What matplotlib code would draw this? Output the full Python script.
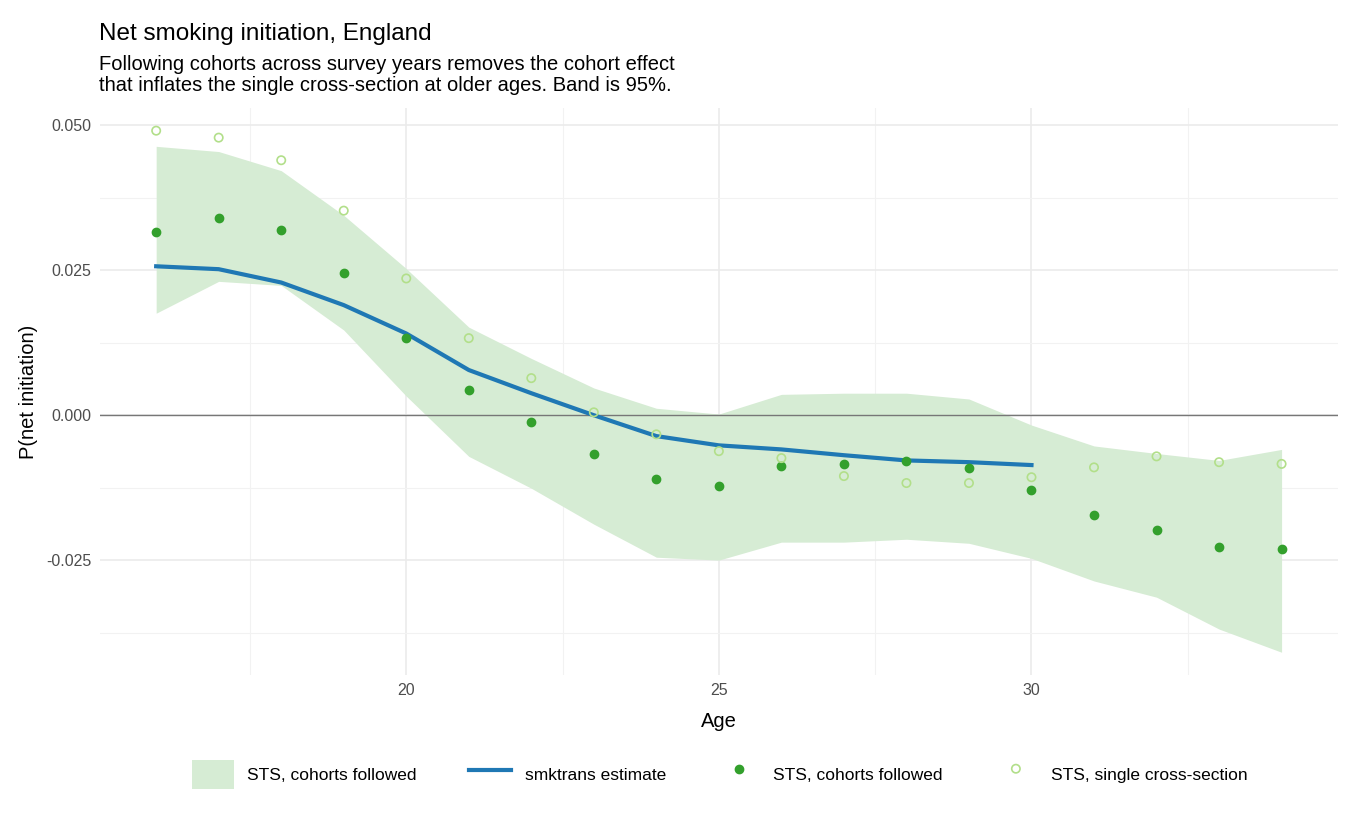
import matplotlib.pyplot as plt
import numpy as np
from matplotlib.ticker import MultipleLocator, FuncFormatter

plt.rcParams['font.family'] = ['Liberation Sans', 'DejaVu Sans']

ages = np.arange(16, 35)
cohort = [0.0317, 0.0340, 0.0320, 0.0245, 0.0133, 0.0043, -0.0012, -0.0067, -0.0110, -0.0122,
          -0.0088, -0.0084, -0.0079, -0.0091, -0.0129, -0.0172, -0.0198, -0.0228, -0.0231]
cross = [0.0491, 0.0479, 0.0440, 0.0353, 0.0236, 0.0133, 0.0064, 0.0005, -0.0033, -0.0062,
         -0.0074, -0.0105, -0.0117, -0.0117, -0.0107, -0.0090, -0.0071, -0.0081, -0.0084]
band_hi = [0.0464, 0.0455, 0.0422, 0.0345, 0.0253, 0.0152, 0.0098, 0.0047, 0.0012, 0.0002,
           0.0036, 0.0038, 0.0038, 0.0028, -0.0017, -0.0053, -0.0066, -0.0078, -0.0059]
band_lo = [0.0176, 0.0231, 0.0224, 0.0147, 0.0033, -0.0071, -0.0126, -0.0188, -0.0245, -0.0250,
           -0.0219, -0.0219, -0.0214, -0.0221, -0.0247, -0.0286, -0.0314, -0.0369, -0.0409]
est_ages = np.arange(16, 31)
estimate = [0.0257, 0.0252, 0.0229, 0.0190, 0.0141, 0.0078, 0.0038, 0.0000, -0.0036, -0.0052,
            -0.0059, -0.0069, -0.0078, -0.0081, -0.0086]

fig = plt.figure(figsize=(13.5, 8.25), dpi=100)
ax = fig.add_axes([0.074, 0.182, 0.917, 0.687])

ax.fill_between(ages, band_lo, band_hi, color='#d6ecd4', lw=0, label='STS, cohorts followed')
ax.axhline(0, color='#777777', lw=1, zorder=1)
ax.plot(est_ages, estimate, color='#1f78b4', lw=3, label='smktrans estimate', zorder=3)
ax.scatter(ages, cohort, color='#33a02c', s=36, zorder=4, label='STS, cohorts followed')
ax.scatter(ages, cross, facecolors='none', edgecolors='#b2df8a', s=36, lw=1.2, zorder=4,
           label='STS, single cross-section')

ax.set_xlim(15.1, 34.9)
ax.set_ylim(-0.0448, 0.053)
ax.xaxis.set_major_locator(MultipleLocator(5))
ax.xaxis.set_minor_locator(MultipleLocator(2.5))
ax.yaxis.set_major_locator(MultipleLocator(0.025))
ax.yaxis.set_minor_locator(MultipleLocator(0.0125))
ax.yaxis.set_major_formatter(FuncFormatter(lambda v, p: f"{v:.3f}"))
ax.grid(which='major', color='#ebebeb', lw=1.2)
ax.grid(which='minor', color='#f2f2f2', lw=0.8)
ax.set_axisbelow(True)
for s in ax.spines.values():
    s.set_visible(False)
ax.tick_params(which='both', length=0, labelsize=11.5, labelcolor='#4d4d4d', pad=6)
ax.set_xlabel('Age', fontsize=14.5, labelpad=10)
ax.set_ylabel('P(net initiation)', fontsize=14.5, labelpad=6)

fig.text(0.073, 0.952, 'Net smoking initiation, England', fontsize=17.5)
fig.text(0.073, 0.89, 'Following cohorts across survey years removes the cohort effect\n'
         'that inflates the single cross-section at older ages. Band is 95%.',
         fontsize=14.5, linespacing=1.15)

fig.legend(loc='lower center', bbox_to_anchor=(0.533, 0.025), ncol=4, frameon=False,
           fontsize=12.5, handlelength=2.4, handleheight=2.2, columnspacing=3)

fig.savefig('out.png', dpi=100)
